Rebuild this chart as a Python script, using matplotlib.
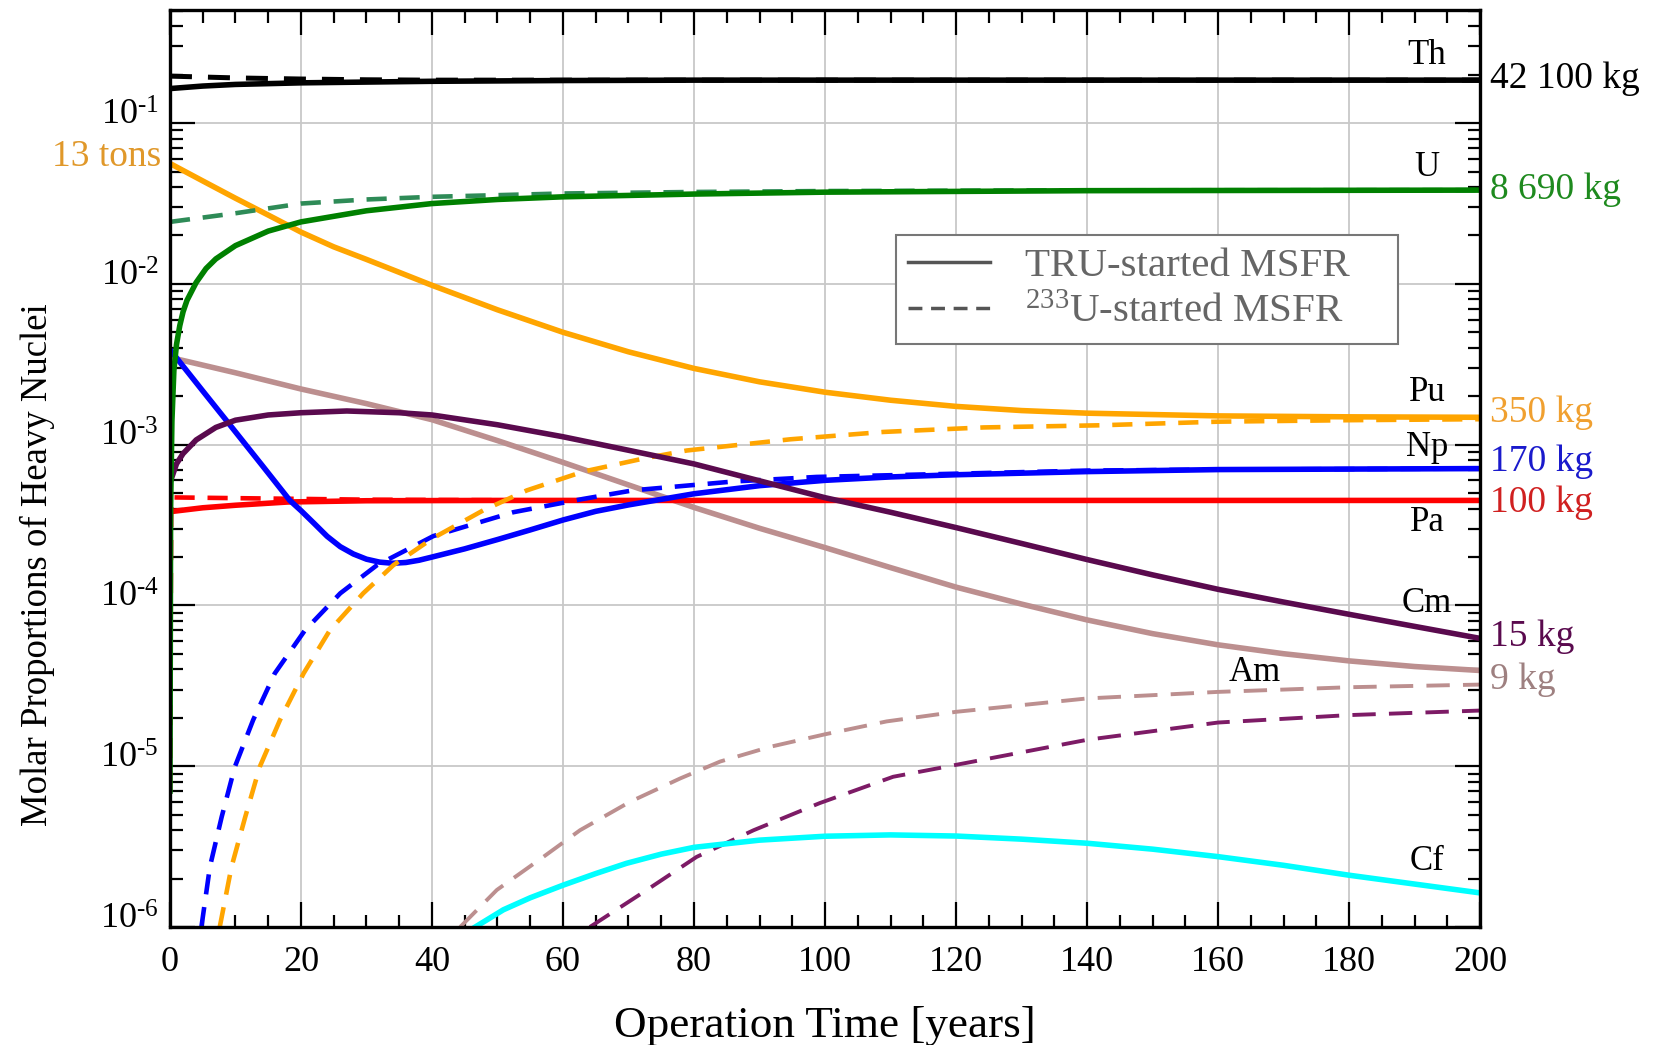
import matplotlib
matplotlib.use("Agg")
import matplotlib.pyplot as plt
import numpy as np
from matplotlib.lines import Line2D
from matplotlib.transforms import ScaledTranslation
from matplotlib.ticker import LogLocator, MultipleLocator, NullFormatter, FuncFormatter

plt.rcParams['font.family'] = ['Liberation Serif', 'DejaVu Serif']
plt.rcParams['mathtext.fontset'] = 'custom'
plt.rcParams['mathtext.rm'] = 'Liberation Serif'
plt.rcParams['mathtext.it'] = 'Liberation Serif:italic'
plt.rcParams['mathtext.bf'] = 'Liberation Serif:bold'

# ---- data (t in years, molar proportion) ----
th_t = [0, 5, 10, 20, 30, 40, 60, 80, 100, 150, 200]
th_y = [0.164, 0.170, 0.174, 0.178, 0.180, 0.182, 0.184, 0.185, 0.185, 0.185, 0.185]
th_t_d = [0, 10, 20, 30, 40, 60, 100, 200]
th_y_d = [0.196, 0.191, 0.188, 0.186, 0.185, 0.185, 0.185, 0.185]

u_t = [0, 0.1, 0.3, 0.6, 1, 1.5, 2, 2.6, 4, 5.5, 7, 10, 15, 20, 30, 40, 50, 60, 80, 100, 140, 200]
u_y = [7e-6, 4e-4, 1.4e-3, 2.9e-3, 4.2e-3, 5.5e-3, 6.7e-3, 7.9e-3, 0.0102, 0.01245, 0.0143,
       0.0173, 0.0213, 0.0243, 0.0285, 0.0316, 0.0335, 0.0348, 0.0362, 0.0372, 0.0380, 0.0383]
u_t_d = [0, 10, 20, 30, 40, 60, 80, 100, 140, 200]
u_y_d = [0.0243, 0.0275, 0.0316, 0.0335, 0.0348, 0.0365, 0.0373, 0.0378, 0.0382, 0.0383]

pu_t = [0, 5, 10, 15, 20, 25, 30, 35, 40, 50, 60, 70, 80, 90, 100, 110, 120, 130, 140, 160, 180, 200]
pu_y = [0.0561, 0.0437, 0.0341, 0.0268, 0.0210, 0.0170, 0.0142, 0.0118, 0.0098, 0.0069, 0.0050,
        0.00378, 0.00298, 0.00246, 0.00212, 0.00189, 0.00173, 0.00163, 0.00157, 0.00151,
        0.00149, 0.00148]
pu_t_d = [7.6, 9.4, 11.5, 13.7, 16.8, 20.4, 24.4, 29.5, 34.1, 40, 47.8, 54.5, 63.1, 72.3, 78.9,
          94.7, 108.9, 124.2, 142, 160, 180, 200]
pu_y_d = [1e-6, 2.37e-6, 4.85e-6, 9.9e-6, 1.94e-5, 3.78e-5, 7.0e-5, 1.19e-4, 1.78e-4, 2.6e-4,
          3.9e-4, 5.2e-4, 6.8e-4, 8.2e-4, 9.2e-4, 1.08e-3, 1.2e-3, 1.28e-3, 1.32e-3, 1.39e-3,
          1.42e-3, 1.44e-3]

np_t = [0, 5, 9.2, 14, 18.3, 20, 22, 24, 26, 28, 30, 32, 34, 36, 38, 40, 45, 50, 55, 60, 65, 70,
        80, 90, 100, 110, 120, 140, 160, 200]
np_y = [3.9e-3, 2.16e-3, 1.32e-3, 7.5e-4, 4.5e-4, 3.89e-4, 3.24e-4, 2.69e-4, 2.32e-4, 2.09e-4,
        1.94e-4, 1.86e-4, 1.83e-4, 1.85e-4, 1.91e-4, 2.0e-4, 2.25e-4, 2.57e-4, 2.95e-4, 3.4e-4,
        3.85e-4, 4.22e-4, 4.95e-4, 5.56e-4, 6.0e-4, 6.3e-4, 6.5e-4, 6.8e-4, 7.0e-4, 7.1e-4]
np_t_d = [4.8, 6.1, 7.9, 9.9, 12.7, 16.0, 20.6, 26.0, 31.6, 40.2, 52.4, 63.1, 70.7, 86, 98.7,
          120, 140, 160, 200]
np_y_d = [1e-6, 2.37e-6, 4.85e-6, 9.9e-6, 1.94e-5, 3.78e-5, 7.0e-5, 1.19e-4, 1.78e-4, 2.7e-4,
          3.8e-4, 4.6e-4, 5.2e-4, 5.9e-4, 6.3e-4, 6.6e-4, 6.9e-4, 7.0e-4, 7.1e-4]

pa_t = [0, 5, 10, 18, 30, 50, 100, 200]
pa_y = [3.83e-4, 4.05e-4, 4.2e-4, 4.4e-4, 4.48e-4, 4.5e-4, 4.5e-4, 4.5e-4]
pa_t_d = [0, 0.2, 10, 30, 60, 200]
pa_y_d = [7e-6, 4.7e-4, 4.65e-4, 4.55e-4, 4.5e-4, 4.5e-4]

cm_t = [0, 1, 2, 4, 7, 10, 15, 20, 27, 35, 40, 50, 60, 70, 80, 90, 100, 110, 120, 130, 140, 150,
        160, 170, 180, 190, 200]
cm_y = [5.8e-4, 7.6e-4, 8.8e-4, 1.07e-3, 1.28e-3, 1.42e-3, 1.53e-3, 1.58e-3, 1.62e-3, 1.58e-3,
        1.53e-3, 1.33e-3, 1.12e-3, 9.23e-4, 7.59e-4, 5.96e-4, 4.68e-4, 3.8e-4, 3.05e-4, 2.43e-4,
        1.93e-4, 1.55e-4, 1.26e-4, 1.05e-4, 8.81e-5, 7.41e-5, 6.24e-5]
cm_t_d = [64.1, 72.8, 80.4, 89.1, 99.2, 110.4, 120, 140, 160, 180, 200]
cm_y_d = [1e-6, 1.7e-6, 2.73e-6, 4.0e-6, 5.9e-6, 8.6e-6, 1.02e-5, 1.46e-5, 1.87e-5, 2.08e-5, 2.22e-5]

am_t = [0, 10, 20, 30, 40, 50, 60, 70, 80, 90, 100, 110, 120, 130, 140, 150, 160, 170, 180, 190, 200]
am_y = [3.49e-3, 2.8e-3, 2.22e-3, 1.8e-3, 1.43e-3, 1.06e-3, 7.76e-4, 5.62e-4, 4.07e-4, 3.02e-4,
        2.29e-4, 1.72e-4, 1.30e-4, 1.02e-4, 8.13e-5, 6.68e-5, 5.69e-5, 5.01e-5, 4.52e-5, 4.17e-5,
        3.94e-5]
am_t_d = [44.3, 49.9, 57.0, 62.6, 70.2, 77.9, 84.0, 91.6, 100, 109.4, 120, 140, 160, 180, 200]
am_y_d = [1e-6, 1.7e-6, 2.73e-6, 4.0e-6, 6.0e-6, 8.4e-6, 1.07e-5, 1.32e-5, 1.58e-5, 1.9e-5,
          2.18e-5, 2.64e-5, 2.9e-5, 3.1e-5, 3.22e-5]

cf_t = [46.6, 50.9, 55, 60, 65, 69.7, 75, 80, 90, 100, 110, 120, 130, 140, 150, 160, 170, 180, 190, 200]
cf_y = [1e-6, 1.28e-6, 1.52e-6, 1.82e-6, 2.15e-6, 2.49e-6, 2.84e-6, 3.13e-6, 3.47e-6, 3.67e-6,
        3.74e-6, 3.68e-6, 3.52e-6, 3.32e-6, 3.05e-6, 2.74e-6, 2.42e-6, 2.1e-6, 1.85e-6, 1.63e-6]

end_labels = ["42 100 kg", "8 690 kg", "350 kg", "170 kg", "100 kg", "15 kg", "9 kg"]
end_label_y = [0.19, 0.0383, 1.57e-3, 7.83e-4, 4.34e-4, 6.35e-5, 3.44e-5]
end_label_colors = ["black", "#1e8a1e", "#f0a030", "#1a1acc", "#d02020", "#5a0a4e", "#9e8080"]

elements = ["Th", "U", "Pu", "Np", "Pa", "Cm", "Am", "Cf"]
element_x = [0.9595, 0.9595, 0.9595, 0.9595, 0.9595, 0.9595, 0.828, 0.9595]
element_y = [0.265, 0.0532, 2.12e-3, 9.66e-4, 3.3e-4, 1.035e-4, 3.85e-5, 2.57e-6]

fig = plt.figure(figsize=(16.63, 10.45), dpi=100)
ax = fig.add_axes([0.1022, 0.1129, 0.7878, 0.8775])
ax.set_yscale('log')

lw_s = 4.0
lw_d = 3.3
ax.plot(am_t, am_y, color='#bc8f8f', lw=lw_s)
ax.plot(am_t_d, am_y_d, color='#bc8f8f', lw=2.8, dashes=(6.0, 3.4))
ax.plot(cm_t_d, cm_y_d, color='#7d1b66', lw=2.8, dashes=(6.0, 3.4))
ax.plot(cf_t, cf_y, color='#00ffff', lw=lw_s)
ax.plot(pa_t_d, pa_y_d, color='#ff0000', lw=lw_d, dashes=(4.4, 2.8))
ax.plot(pa_t, pa_y, color='#ff0000', lw=lw_s)
ax.plot(np_t_d, np_y_d, color='#0000ff', lw=lw_d, dashes=(4.4, 2.8))
ax.plot(np_t, np_y, color='#0000ff', lw=lw_s)
ax.plot(pu_t_d, pu_y_d, color='#ffa500', lw=lw_d, dashes=(4.4, 2.8))
ax.plot(pu_t, pu_y, color='#ffa500', lw=lw_s)
ax.plot(cm_t, cm_y, color='#5a0a4e', lw=lw_s)
ax.plot(u_t_d, u_y_d, color='#2e8b57', lw=lw_d, dashes=(4.4, 2.8))
ax.plot(u_t, u_y, color='#008000', lw=lw_s)
ax.plot(th_t_d, th_y_d, color='black', lw=3.6, dashes=(4.4, 3.2))
ax.plot(th_t, th_y, color='black', lw=lw_s)

ax.set_xlim(0, 200)
ax.set_ylim(1e-6, 0.505)


def pow_label(v, pos):
    e = int(round(np.log10(v)))
    return r'$\mathdefault{10^{\text{-}%d}}$' % (-e)


ax.xaxis.set_major_locator(MultipleLocator(20))
ax.xaxis.set_minor_locator(MultipleLocator(5))
ax.yaxis.set_major_locator(LogLocator(base=10, numticks=100))
ax.yaxis.set_minor_locator(LogLocator(base=10, subs=np.arange(2, 10), numticks=100))
ax.yaxis.set_major_formatter(FuncFormatter(pow_label))
ax.yaxis.set_minor_formatter(NullFormatter())

ax.grid(True, which='major', color='#c8c8c8', lw=1.3)
ax.set_axisbelow(True)
ax.tick_params(which='both', direction='in', top=True, right=True, width=1.6,
               labelsize=26, colors='black')
ax.tick_params(which='major', length=18)
ax.tick_params(which='minor', length=9)
ax.tick_params(axis='x', pad=14)
ax.tick_params(axis='y', pad=8)
for s in ax.spines.values():
    s.set_linewidth(2.4)

shift = ScaledTranslation(0, 8 / 72, fig.dpi_scale_trans)
for lab in ax.get_yticklabels():
    lab.set_transform(lab.get_transform() + shift)

ax.set_xlabel("Operation Time [years]", fontsize=32.5)
ax.xaxis.set_label_coords(0.5, -0.086)
ax.set_ylabel("Molar Proportions of Heavy Nuclei", fontsize=26.5)
ax.yaxis.set_label_coords(-0.088, 0.395)

for txt, yv, c in zip(end_labels, end_label_y, end_label_colors):
    ax.text(1.0076, yv, txt, color=c, fontsize=27, ha='left', va='center',
            transform=ax.get_yaxis_transform(), clip_on=False)

for txt, xv, yv in zip(elements, element_x, element_y):
    ax.text(xv, yv, txt, color='black', fontsize=25, ha='center', va='center',
            transform=ax.get_yaxis_transform())

ax.text(-0.0069, 0.0615, "13 tons", color='#e0982a', fontsize=27, ha='right', va='center',
        transform=ax.get_yaxis_transform(), clip_on=False)

handles = [Line2D([], [], color='#555555', lw=2.5),
           Line2D([], [], color='#555555', lw=2.5, dashes=(4.0, 2.5))]
leg = ax.legend(handles, ["TRU-started MSFR", "$^{233}$U-started MSFR"],
                loc='upper left', bbox_to_anchor=(0.554, 0.6347, 0.3834, 0.12), mode='expand',
                borderaxespad=0, fontsize=29.5, handlelength=2.0, handletextpad=0.85,
                borderpad=0.3, labelspacing=0.22, fancybox=False, framealpha=1,
                labelcolor='#666666')
leg.get_frame().set_edgecolor('#777777')
leg.get_frame().set_linewidth(1.5)

fig.savefig("out.png", dpi=100)
